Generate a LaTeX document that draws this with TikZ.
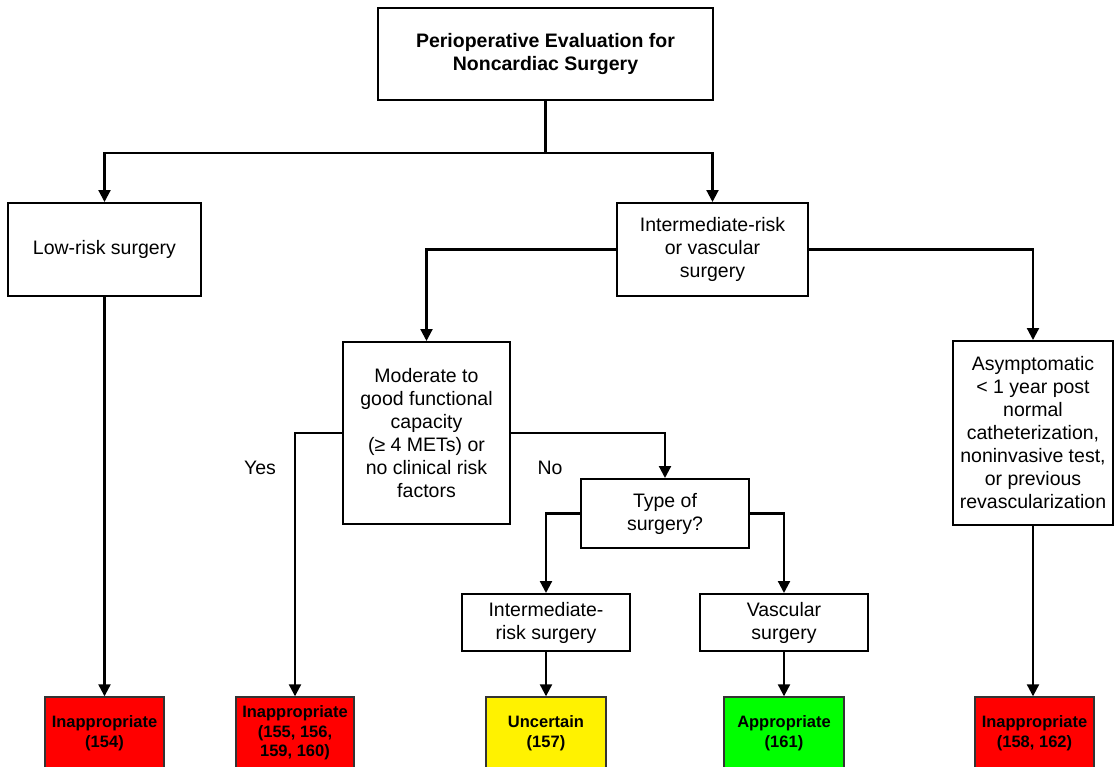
\documentclass[tikz,border=0pt]{standalone}
\usepackage{fontspec}
\setmainfont{Liberation Sans}
\usetikzlibrary{arrows.meta}
\begin{document}
\begin{tikzpicture}[x=1pt,y=-1pt,
  box/.style={draw=black, line width=2pt, fill=white, inner sep=0pt, align=center,
    font=\fontsize{19.5}{23}\selectfont},
  res/.style={draw=black!80, line width=1.4pt, inner sep=0pt, align=center,
    minimum width=#1, minimum height=72,
    font=\bfseries\fontsize{16.5}{19.5}\selectfont},
  conn/.style={line width=2.2pt},
  arr/.style={line width=2.2pt, -{Triangle[width=12pt,length=12pt]}},
  lbl/.style={inner sep=0pt, font=\fontsize{19.5}{23}\selectfont}]
\clip (0,0) rectangle (1114,766);
\fill[white] (0,0) rectangle (1114,766);
% boxes
\node[box, minimum width=335, minimum height=92, font=\bfseries\fontsize{19.5}{23}\selectfont] (top) at (545.5,54) {Perioperative Evaluation for\\Noncardiac Surgery};
\node[box, minimum width=193, minimum height=93] (low) at (104.5,249.5) {Low-risk surgery};
\node[box, minimum width=191, minimum height=93] (inter) at (712.5,249.5) {Intermediate-risk\\or vascular\\surgery};
\node[box, minimum width=167, minimum height=182] (mod) at (426.5,433) {Moderate to\\good functional\\capacity\\(≥ 4 METs) or\\no clinical risk\\factors};
\node[box, minimum width=160, minimum height=184] (asym) at (1033,433) {Asymptomatic\\< 1 year post\\normal\\catheterization,\\noninvasive test,\\or previous\\revascularization};
\node[box, minimum width=168, minimum height=69] (type) at (665,513.5) {Type of\\surgery?};
\node[box, minimum width=168, minimum height=57] (irs) at (546,622.5) {Intermediate-\\risk surgery};
\node[box, minimum width=168, minimum height=57] (vasc) at (784,622.5) {Vascular\\surgery};
% results
\node[res=119, fill=red] (r1) at (104.5,733) {Inappropriate\\(154)};
\node[res=118, fill=red] (r2) at (295,733) {Inappropriate\\(155, 156,\\159, 160)};
\node[res=120, fill=yellow] (r3) at (546,733) {Uncertain\\(157)};
\node[res=120, fill={rgb,255:red,0;green,255;blue,0}] (r4) at (784,733) {Appropriate\\(161)};
\node[res=119, fill=red] (r5) at (1034.5,733) {Inappropriate\\(158, 162)};
% labels
\node[lbl] (yes) at (260,468) {Yes};
\node[lbl] (no) at (550,468) {No};
% connectors
\draw[conn] (top.south) -- ++(0,52) coordinate (j);
\draw[arr] (j) -| (low.north);
\draw[arr] (j) -| (inter.north);
\draw[arr] (inter.west) -| (mod.north);
\draw[arr] (inter.east) -| (asym.north);
\draw[arr] (low.south) -- (r1.north);
\draw[arr] (mod.west) -| (r2.north);
\draw[arr] (mod.east) -| (type.north);
\draw[arr] (type.west) -| (irs.north);
\draw[arr] (type.east) -| (vasc.north);
\draw[arr] (irs.south) -- (r3.north);
\draw[arr] (vasc.south) -- (r4.north);
\draw[arr] (asym.south) -- (asym.south |- r5.north);
\end{tikzpicture}
\end{document}
